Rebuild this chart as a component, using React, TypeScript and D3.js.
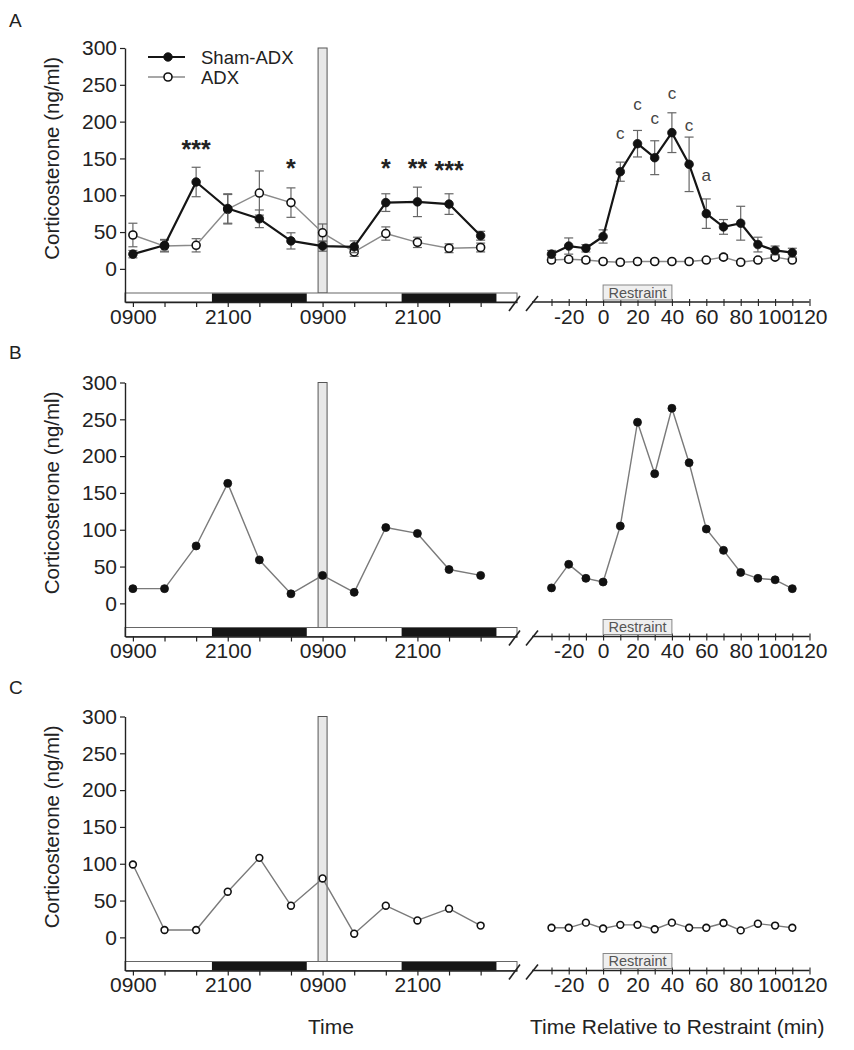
import { useEffect, useRef } from 'react';
import * as d3 from 'd3';

// clock times, hours after 0900 on day 1
const leftHours = [0, 4, 8, 12, 16, 20, 24, 28, 32, 36, 40, 44];
const leftTickLabels = ['0900', '', '', '2100', '', '', '0900', '', '', '2100', '', ''];
const darkPeriods = [[10, 22], [34, 46]];
const restraintWindow = [0, 40];

// minutes relative to restraint onset
const rightMinutes = [-30, -20, -10, 0, 10, 20, 30, 40, 50, 60, 70, 80, 90, 100, 110];
const rightTicks = [-30, -20, -10, 0, 10, 20, 30, 40, 50, 60, 70, 80, 90, 100, 110, 120];
const rightTickLabels = ['', '-20', '', '0', '', '20', '', '40', '', '60', '', '80', '', '100', '', '120'];

const yTicks = [0, 50, 100, 150, 200, 250, 300];

// panel A, group means +/- SEM
const shamLeftMean = [20, 32, 118, 82, 68, 38, 31, 30, 90, 91, 88, 45];
const shamLeftSem = [5, 8, 20, 20, 12, 11, 7, 8, 12, 20, 14, 6];
const adxLeftMean = [46, 31, 32, 81, 103, 90, 49, 23, 48, 36, 28, 29];
const adxLeftSem = [16, 8, 9, 20, 30, 20, 12, 6, 9, 7, 6, 6];
const shamRightMean = [20, 31, 28, 44, 132, 170, 151, 185, 142, 75, 57, 62, 33, 25, 22];
const shamRightSem = [5, 11, 5, 9, 13, 18, 23, 27, 37, 20, 10, 23, 10, 6, 6];
const adxRightMean = [12, 13, 12, 10, 9, 10, 10, 10, 10, 12, 16, 9, 12, 16, 12];
const adxRightSem = [3, 3, 3, 2, 2, 2, 2, 2, 2, 2, 3, 2, 2, 3, 2];

const leftStars = ['', '', '***', '', '', '*', '', '', '*', '**', '***', ''];
const leftStarLevels = [0, 0, 168, 0, 0, 143, 0, 0, 143, 143, 140, 0];
const rightLetters = ['', '', '', '', 'c', 'c', 'c', 'c', 'c', 'a', '', '', '', '', ''];
const rightLetterLevels = [0, 0, 0, 0, 182, 222, 203, 237, 194, 126, 0, 0, 0, 0, 0];

// panel B, single sham-ADX animal
const shamAnimalLeft = [20, 20, 78, 163, 59, 13, 38, 15, 103, 95, 46, 38];
const shamAnimalRight = [21, 53, 34, 29, 105, 246, 176, 265, 191, 101, 72, 42, 34, 32, 20];

// panel C, single ADX animal
const adxAnimalLeft = [99, 10, 10, 62, 108, 43, 80, 5, 43, 23, 39, 16];
const adxAnimalRight = [13, 13, 20, 12, 17, 17, 11, 20, 13, 13, 19.5, 9.5, 18.6, 16, 13];

const FONT = "'Liberation Sans', Arial, sans-serif";
const INK = '#222';

const App = () => {
    const svgRef = useRef(null);

    useEffect(() => {
        const width = 854;
        const height = 1050;
        const svg = d3.select(svgRef.current);
        svg.selectAll('*').remove();
        svg.attr('width', width).attr('height', height)
            .style('font-family', FONT);

        const xL = d3.scaleLinear().domain([-1, 48.6]).range([125, 517]);
        const xR = d3.scaleLinear().domain([-30, 120]).range([551.5, 809.5]);

        const panels = [
            { letter: 'A', off: 0, letterY: 27 },
            { letter: 'B', off: 334.5, letterY: 359 },
            { letter: 'C', off: 668.5, letterY: 694 },
        ];

        const drawFrame = (g, y) => {
            const base = y(-45);
            // vertical bar marking the restraint day 0900
            g.append('rect')
                .attr('x', xL(24) - 4.5).attr('y', y(300))
                .attr('width', 9).attr('height', base - 9 - y(300))
                .attr('fill', '#e8e8e8').attr('stroke', '#555').attr('stroke-width', 1);

            // light / dark bar
            g.append('rect')
                .attr('x', xL(-1)).attr('y', base - 9)
                .attr('width', xL(48.6) - xL(-1)).attr('height', 9)
                .attr('fill', '#fff').attr('stroke', '#666').attr('stroke-width', 1);
            darkPeriods.forEach(([a, b]) => {
                g.append('rect')
                    .attr('x', xL(a)).attr('y', base - 8.5)
                    .attr('width', xL(b) - xL(a)).attr('height', 8.5)
                    .attr('fill', '#161616');
            });

            // y axis
            const ya = g.append('g')
                .attr('transform', `translate(${xL(-1)},0)`)
                .call(d3.axisLeft(y).tickValues(yTicks).tickSize(5).tickSizeOuter(0).tickPadding(3));
            ya.select('.domain').attr('stroke', INK).attr('stroke-width', 1.4);
            ya.selectAll('.tick line').attr('stroke', INK).attr('stroke-width', 1.2);
            ya.selectAll('text').attr('font-size', 21).attr('fill', INK).attr('font-family', FONT);

            // left x axis
            const xa = g.append('g')
                .attr('transform', `translate(0,${base})`)
                .call(d3.axisBottom(xL).tickValues(leftHours)
                    .tickFormat((d, i) => leftTickLabels[i]).tickSize(5).tickSizeOuter(0));
            xa.select('.domain').attr('stroke', INK).attr('stroke-width', 1.4);
            xa.selectAll('.tick line').attr('stroke', INK).attr('stroke-width', 1.2);
            xa.selectAll('text').attr('font-size', 21).attr('fill', INK)
                .attr('font-family', FONT).attr('y', 7);

            // axis break marks
            [[509, 520], [526, 538]].forEach(([a, b]) => {
                g.append('line')
                    .attr('x1', a).attr('y1', base + 9).attr('x2', b).attr('y2', base - 6)
                    .attr('stroke', INK).attr('stroke-width', 1.6);
            });

            // right x axis
            g.append('line')
                .attr('x1', 532).attr('x2', xR(120)).attr('y1', base).attr('y2', base)
                .attr('stroke', INK).attr('stroke-width', 1.4);
            const xr = g.append('g')
                .attr('transform', `translate(0,${base})`)
                .call(d3.axisBottom(xR).tickValues(rightTicks)
                    .tickFormat((d, i) => rightTickLabels[i]).tickSize(4).tickSizeOuter(0));
            xr.select('.domain').remove();
            xr.selectAll('.tick line').attr('stroke', INK).attr('stroke-width', 1.1).attr('y1', -3);
            xr.selectAll('text').attr('font-size', 21).attr('fill', INK)
                .attr('font-family', FONT).attr('y', 7);

            // restraint box
            g.append('rect')
                .attr('x', xR(restraintWindow[0])).attr('y', base - 17)
                .attr('width', xR(restraintWindow[1]) - xR(restraintWindow[0])).attr('height', 15)
                .attr('fill', '#efefef').attr('stroke', '#888').attr('stroke-width', 1);
            g.append('text')
                .attr('x', (xR(restraintWindow[0]) + xR(restraintWindow[1])) / 2)
                .attr('y', base - 4.5)
                .attr('text-anchor', 'middle').attr('font-size', 14.5).attr('fill', '#555')
                .text('Restraint');

            // y axis title
            g.append('text')
                .attr('transform', `translate(59,${(y(300) + y(0)) / 2}) rotate(-90)`)
                .attr('text-anchor', 'middle').attr('font-size', 20.5).attr('fill', INK)
                .text('Corticosterone (ng/ml)');
        };

        const drawSeries = (g, xs, x, y, vals, opts) => {
            const line = d3.line().x((d, i) => x(xs[i])).y(d => y(d));
            if (opts.sem) {
                const eb = g.append('g').attr('stroke', '#666').attr('stroke-width', 1.2);
                vals.forEach((v, i) => {
                    const s = opts.sem[i];
                    const cx = x(xs[i]);
                    eb.append('line').attr('x1', cx).attr('x2', cx).attr('y1', y(v + s)).attr('y2', y(v - s));
                    eb.append('line').attr('x1', cx - 4.5).attr('x2', cx + 4.5).attr('y1', y(v + s)).attr('y2', y(v + s));
                    eb.append('line').attr('x1', cx - 4.5).attr('x2', cx + 4.5).attr('y1', y(v - s)).attr('y2', y(v - s));
                });
            }
            g.append('path').datum(vals)
                .attr('d', line).attr('fill', 'none')
                .attr('stroke', opts.lineColor).attr('stroke-width', opts.lineWidth)
                .attr('stroke-linejoin', 'round');
            g.append('g').selectAll('circle').data(vals).join('circle')
                .attr('cx', (d, i) => x(xs[i])).attr('cy', d => y(d))
                .attr('r', opts.r)
                .attr('fill', opts.filled ? '#111' : '#fff')
                .attr('stroke', '#111').attr('stroke-width', opts.filled ? 0.8 : 1.6);
        };

        panels.forEach((p, pi) => {
            const y = d3.scaleLinear().domain([-45, 300]).range([302 + p.off, 48 + p.off]);
            const g = svg.append('g');

            g.append('text').attr('x', 9).attr('y', p.letterY)
                .attr('font-size', 19).attr('fill', INK).text(p.letter);

            drawFrame(g, y);

            if (pi === 0) {
                const adxOpts = { sem: null, lineColor: '#8a8a8a', lineWidth: 1.4, r: 4, filled: false };
                const shamOpts = { sem: null, lineColor: '#151515', lineWidth: 2.2, r: 4.3, filled: true };
                drawSeries(g, leftHours, xL, y, adxLeftMean, { ...adxOpts, sem: adxLeftSem });
                drawSeries(g, leftHours, xL, y, shamLeftMean, { ...shamOpts, sem: shamLeftSem });
                drawSeries(g, rightMinutes, xR, y, adxRightMean, { ...adxOpts, sem: adxRightSem });
                drawSeries(g, rightMinutes, xR, y, shamRightMean, { ...shamOpts, sem: shamRightSem });

                leftStars.forEach((s, i) => {
                    if (!s) return;
                    g.append('text')
                        .attr('x', xL(leftHours[i])).attr('y', y(leftStarLevels[i]) + 13)
                        .attr('text-anchor', 'middle').attr('font-size', 25).attr('font-weight', 'bold')
                        .attr('fill', INK).text(s);
                });
                rightLetters.forEach((s, i) => {
                    if (!s) return;
                    g.append('text')
                        .attr('x', xR(rightMinutes[i])).attr('y', y(rightLetterLevels[i]) + 4.5)
                        .attr('text-anchor', 'middle').attr('font-size', 17)
                        .attr('fill', '#444').text(s);
                });

                // legend
                const legend = g.append('g');
                [
                    { label: 'Sham-ADX', opts: shamOpts, ly: 57 },
                    { label: 'ADX', opts: adxOpts, ly: 77 },
                ].forEach(item => {
                    legend.append('line').attr('x1', 148).attr('x2', 185)
                        .attr('y1', item.ly).attr('y2', item.ly)
                        .attr('stroke', item.opts.lineColor).attr('stroke-width', item.opts.lineWidth);
                    legend.append('circle').attr('cx', 168).attr('cy', item.ly).attr('r', item.opts.r)
                        .attr('fill', item.opts.filled ? '#111' : '#fff')
                        .attr('stroke', '#111').attr('stroke-width', item.opts.filled ? 0.8 : 1.6);
                    legend.append('text').attr('x', 201).attr('y', item.ly + 6.5)
                        .attr('font-size', 18.5).attr('fill', INK).text(item.label);
                });
            } else if (pi === 1) {
                const opts = { sem: null, lineColor: '#7a7a7a', lineWidth: 1.4, r: 4, filled: true };
                drawSeries(g, leftHours, xL, y, shamAnimalLeft, opts);
                drawSeries(g, rightMinutes, xR, y, shamAnimalRight, opts);
            } else {
                const opts = { sem: null, lineColor: '#7a7a7a', lineWidth: 1.4, r: 3.4, filled: false };
                drawSeries(g, leftHours, xL, y, adxAnimalLeft, opts);
                drawSeries(g, rightMinutes, xR, y, adxAnimalRight, opts);
            }
        });

        // bottom axis titles
        svg.append('text').attr('x', 331).attr('y', 1034)
            .attr('text-anchor', 'middle').attr('font-size', 21).attr('fill', INK).text('Time');
        svg.append('text').attr('x', 530).attr('y', 1034)
            .attr('font-size', 21).attr('fill', INK).text('Time Relative to Restraint (min)');
    }, []);

    return (
        <svg ref={svgRef} style={{ position: 'absolute', left: 0, top: 0, background: '#fff' }} />
    );
};

export default App;
